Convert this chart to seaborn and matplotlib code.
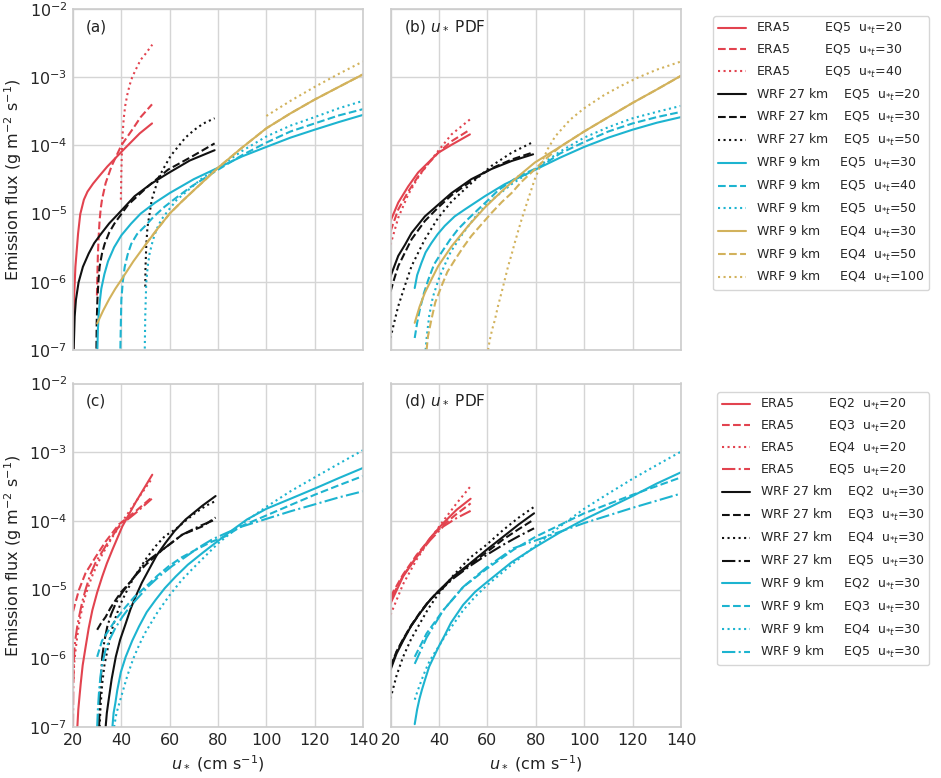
import numpy as np
import matplotlib
matplotlib.use("Agg")
import matplotlib.pyplot as plt
import seaborn as sns

# ---------------- data ----------------
# panel (a): single-threshold EQ5 / EQ4 curves
a_era5_20_u = [20.1, 20.4, 21.0, 22.1, 23.0, 24.5, 26, 28.3, 31, 34.2, 40.7, 47.6, 52.7]
a_era5_20_f = [1.05e-7, 5.4e-7, 1.66e-6, 5.1e-6, 9.8e-6, 1.6e-5, 2.1e-5, 2.75e-5, 3.6e-5, 4.9e-5, 8.5e-5, 1.5e-4, 2.1e-4]
a_era5_30_u = [29.9, 30.1, 30.3, 30.6, 31, 31.5, 32, 33.5, 36, 40, 45, 48, 52.7]
a_era5_30_f = [6.3e-7, 1.3e-6, 2.5e-6, 4.5e-6, 7.9e-6, 1.2e-5, 1.6e-5, 2.8e-5, 5.0e-5, 1.0e-4, 1.8e-4, 2.6e-4, 4.0e-4]
a_era5_40_u = [39.8, 39.9, 40.0, 40.15, 40.3, 40.6, 41, 41.6, 42.5, 43.5, 44.5, 46, 48, 50, 52.8]
a_era5_40_f = [1.6e-5, 2.5e-5, 4.0e-5, 6.3e-5, 1.0e-4, 1.6e-4, 2.5e-4, 3.8e-4, 5.6e-4, 7.8e-4, 1.0e-3,
               1.3e-3, 1.8e-3, 2.2e-3, 3.0e-3]

a_w27_20_u = [20.3, 20.7, 21.2, 22.3, 24.1, 26.5, 28.8, 31.7, 35, 38.6, 45.5, 52.4, 59.3, 68.3, 78.6]
a_w27_20_f = [1.05e-7, 3.1e-7, 5.4e-7, 9.8e-7, 1.66e-6, 2.6e-6, 3.7e-6, 5.1e-6, 7.2e-6, 9.8e-6, 1.8e-5,
              2.75e-5, 3.9e-5, 6.0e-5, 8.5e-5]
a_w27_30_u = [29.7, 29.8, 30.1, 30.5, 31, 32, 33.1, 35, 37.2, 42.8, 51, 59.3, 69, 78.6]
a_w27_30_f = [1.05e-7, 2.5e-7, 5.4e-7, 1.0e-6, 1.66e-6, 2.6e-6, 3.6e-6, 5.3e-6, 7.2e-6, 1.35e-5, 2.5e-5,
              4.4e-5, 6.8e-5, 1.07e-4]
a_w27_50_u = [49.9, 50.0, 50.3, 50.8, 51.7, 52.6, 53.8, 55.5, 57.9, 60.5, 63.4, 66.5, 70.3, 74, 78.6]
a_w27_50_f = [8.5e-7, 1.6e-6, 3.3e-6, 6.3e-6, 1.0e-5, 1.6e-5, 2.2e-5, 3.4e-5, 4.9e-5, 7.1e-5, 9.5e-5,
              1.3e-4, 1.7e-4, 2.1e-4, 2.5e-4]

a_w9_30_u = [30.1, 30.3, 30.6, 31.1, 31.7, 33, 34.5, 37, 40, 44, 48, 54, 60, 70, 80, 90, 100, 110, 120, 130, 140]
a_w9_30_f = [1.05e-7, 2.0e-7, 3.2e-7, 5.2e-7, 7.9e-7, 1.3e-6, 2.0e-6, 3.2e-6, 4.8e-6, 7.1e-6, 1.0e-5,
             1.45e-5, 2.0e-5, 3.2e-5, 4.7e-5, 6.9e-5, 9.5e-5, 1.3e-4, 1.7e-4, 2.2e-4, 2.8e-4]
a_w9_40_u = [39.6, 39.8, 40, 40.6, 41.4, 42.6, 44.1, 46.5, 49.7, 53.5, 57.9, 63, 69, 80, 90, 100, 110, 120, 130, 140]
a_w9_40_f = [1.05e-7, 2.5e-7, 5.4e-7, 1.0e-6, 1.66e-6, 2.5e-6, 3.6e-6, 5.0e-6, 6.5e-6, 9.1e-6, 1.26e-5,
             1.74e-5, 2.5e-5, 4.4e-5, 7.2e-5, 1.1e-4, 1.6e-4, 2.1e-4, 2.75e-4, 3.4e-4]
a_w9_50_u = [49.7, 49.9, 50.3, 50.9, 51.7, 53, 54.5, 56.5, 59.3, 63, 67.6, 73, 80, 90, 100, 110, 120, 130, 140]
a_w9_50_f = [1.05e-7, 3.2e-7, 9.5e-7, 1.66e-6, 2.6e-6, 4.0e-6, 5.8e-6, 8.1e-6, 1.1e-5, 1.6e-5, 2.2e-5,
             3.2e-5, 4.7e-5, 8.3e-5, 1.35e-4, 1.95e-4, 2.6e-4, 3.5e-4, 4.5e-4]

a_w9eq4_30_u = [30, 32.5, 35, 37.5, 40, 45, 50, 55, 60, 65, 70, 75, 80, 90, 100, 110, 120, 130, 140]
a_w9eq4_30_f = [2.45e-7, 3.8e-7, 5.6e-7, 7.9e-7, 1.07e-6, 2.0e-6, 3.5e-6, 6.0e-6, 1.0e-5, 1.5e-5, 2.2e-5,
                3.2e-5, 4.7e-5, 9.3e-5, 1.78e-4, 2.95e-4, 4.7e-4, 7.2e-4, 1.1e-3]
a_w9eq4_50_u = [50, 55, 60, 65, 70, 75, 80, 90, 100, 110, 120, 130, 140]
a_w9eq4_50_f = [3.5e-6, 6.0e-6, 1.0e-5, 1.5e-5, 2.2e-5, 3.2e-5, 4.7e-5, 9.3e-5, 1.78e-4, 2.95e-4, 4.7e-4,
                7.2e-4, 1.1e-3]
a_w9eq4_100_u = [100, 110, 120, 130, 140]
a_w9eq4_100_f = [2.7e-4, 4.5e-4, 7.2e-4, 1.12e-3, 1.7e-3]

# panel (b): u* PDF version
b_era5_u = [20, 23.2, 27.3, 31.4, 35.6, 39.7, 45.2, 52.8]
b_era5_20_f = [7.8e-6, 1.45e-5, 2.5e-5, 4.0e-5, 5.6e-5, 7.8e-5, 1.02e-4, 1.45e-4]
b_era5_30_f = [5.5e-6, 1.15e-5, 2.1e-5, 3.5e-5, 5.4e-5, 7.8e-5, 1.15e-4, 1.7e-4]
b_era5_40_f = [3.5e-6, 8.7e-6, 1.9e-5, 3.4e-5, 5.4e-5, 8.3e-5, 1.45e-4, 2.4e-4]

b_w27_u = [20, 21.6, 23.2, 26, 28.7, 34.2, 39.7, 45.2, 53.4, 61.7, 70, 78.9]
b_w27_20_f = [1.2e-6, 1.7e-6, 2.4e-6, 3.5e-6, 5.2e-6, 9.1e-6, 1.35e-5, 2.0e-5, 3.2e-5, 4.5e-5, 5.9e-5, 7.4e-5]
b_w27_30_f = [7.2e-7, 1.12e-6, 1.7e-6, 2.7e-6, 4.2e-6, 7.8e-6, 1.23e-5, 1.86e-5, 3.0e-5, 4.6e-5, 6.2e-5, 7.9e-5]
b_w27_50_f = [1.5e-7, 2.6e-7, 4.4e-7, 8.9e-7, 1.7e-6, 4.2e-6, 8.7e-6, 1.5e-5, 2.8e-5, 5.0e-5, 7.8e-5, 1.12e-4]

b_w9_30_u = [30, 31, 32.8, 34.5, 36.9, 39.5, 42.4, 46.5, 50.7, 55, 59, 67.2, 75.5, 83, 90, 100, 110, 120, 130, 140]
b_w9_30_f = [8.1e-7, 1.25e-6, 1.9e-6, 2.7e-6, 3.7e-6, 5.0e-6, 6.6e-6, 9.1e-6, 1.15e-5, 1.45e-5, 1.8e-5,
             2.7e-5, 3.7e-5, 5.0e-5, 6.6e-5, 9.5e-5, 1.3e-4, 1.7e-4, 2.15e-4, 2.6e-4]
b_w9_40_u = [30, 31, 32.1, 33.8, 35.6, 38, 41.1, 44.5, 47.9, 52, 56.2, 60.5, 64.5, 72.7, 82.4, 90, 100, 110,
             120, 130, 140]
b_w9_40_f = [1.5e-7, 2.5e-7, 3.9e-7, 6.8e-7, 1.07e-6, 1.8e-6, 2.7e-6, 4.1e-6, 5.9e-6, 8.3e-6, 1.15e-5,
             1.6e-5, 2.2e-5, 3.5e-5, 5.0e-5, 7.6e-5, 1.12e-4, 1.6e-4, 2.1e-4, 2.6e-4, 3.1e-4]
b_w9_50_u = [34.5, 35, 36, 37.5, 40, 42.5, 45, 50, 55, 60, 70, 80, 90, 100, 110, 120, 130, 140]
b_w9_50_f = [1.0e-7, 1.6e-7, 3.2e-7, 6.0e-7, 1.12e-6, 1.8e-6, 2.8e-6, 5.2e-6, 8.9e-6, 1.4e-5, 2.7e-5,
             4.6e-5, 8.1e-5, 1.3e-4, 1.85e-4, 2.5e-4, 3.1e-4, 3.8e-4]

b_w9eq4_30_u = [30, 32, 34.2, 37, 39.7, 45.2, 52.1, 59, 65.8, 72.7, 79.6, 90, 100, 110, 120, 130, 140]
b_w9eq4_30_f = [2.5e-7, 4.3e-7, 6.9e-7, 1.1e-6, 1.7e-6, 3.3e-6, 6.6e-6, 1.23e-5, 2.1e-5, 3.5e-5, 5.6e-5,
                9.5e-5, 1.6e-4, 2.6e-4, 4.2e-4, 6.6e-4, 1.05e-3]
b_w9eq4_50_u = [34.9, 35.5, 36.9, 38.5, 41.1, 43.5, 46.6, 50, 53.4, 57.5, 61.7, 66, 70, 74, 78.2, 84, 90,
                100, 110, 120, 130, 140]
b_w9eq4_50_f = [1.0e-7, 1.6e-7, 2.8e-7, 5.0e-7, 8.7e-7, 1.4e-6, 2.1e-6, 3.2e-6, 4.7e-6, 6.9e-6, 1.02e-5,
                1.48e-5, 2.0e-5, 2.9e-5, 4.0e-5, 6.3e-5, 9.5e-5, 1.6e-4, 2.6e-4, 4.2e-4, 6.6e-4, 1.05e-3]
b_w9eq4_100_u = [60.3, 61, 62, 63.1, 64.4, 65.8, 67.2, 68.6, 70, 71.3, 72.7, 74.1, 76.8, 79.6, 82.4, 85,
                 88, 94.3, 100, 108, 115, 122, 130, 140]
b_w9eq4_100_f = [1.0e-7, 1.4e-7, 2.0e-7, 2.75e-7, 4.4e-7, 6.8e-7, 1.07e-6, 1.7e-6, 2.5e-6, 3.7e-6, 5.5e-6,
                 8.1e-6, 1.6e-5, 3.2e-5, 5.6e-5, 8.9e-5, 1.35e-4, 2.4e-4, 3.5e-4, 5.4e-4, 7.4e-4,
                 9.8e-4, 1.29e-3, 1.7e-3]

# panel (c): EQ2-EQ5 with fixed thresholds
c_era5_eq2_u = [21.8, 22.2, 22.7, 23.2, 24, 25.2, 26.5, 28, 30, 32.1, 34, 36.3, 40.4, 45.9, 52.8]
c_era5_eq2_f = [1.0e-7, 1.8e-7, 2.8e-7, 4.3e-7, 7.9e-7, 1.45e-6, 2.75e-6, 5.0e-6, 9.1e-6, 1.55e-5, 2.4e-5,
                3.8e-5, 8.3e-5, 1.86e-4, 4.7e-4]
c_era5_eq3_u = [20, 22.5, 25.2, 29.4, 33.5, 39, 45.9, 52.6]
c_era5_eq3_f = [4.8e-6, 1.0e-5, 1.74e-5, 3.0e-5, 5.0e-5, 8.9e-5, 1.38e-4, 2.2e-4]
c_era5_eq4_u = [20.2, 20.5, 21, 21.7, 22.5, 23.7, 25, 26.5, 28, 30, 32, 36, 40, 46, 52.8]
c_era5_eq4_f = [5.0e-7, 8.5e-7, 1.26e-6, 2.0e-6, 3.2e-6, 5.2e-6, 7.9e-6, 1.15e-5, 1.6e-5, 2.3e-5, 3.2e-5,
                5.6e-5, 9.3e-5, 1.9e-4, 4.2e-4]
c_era5_eq5_u = [20, 20.1, 20.3, 20.6, 21.1, 21.8, 22.5, 23.8, 25.2, 27, 29.4, 33.5, 39, 45.9, 52.6]
c_era5_eq5_f = [1.0e-7, 3.2e-7, 8.3e-7, 1.4e-6, 2.0e-6, 3.0e-6, 4.0e-6, 6.6e-6, 1.0e-5, 1.6e-5, 2.5e-5,
                4.3e-5, 8.3e-5, 1.3e-4, 2.1e-4]

c_w27_eq2_u = [33.5, 34, 34.9, 36, 37.7, 39.5, 41.8, 43.8, 45.9, 48.5, 51.4, 54.5, 58.3, 62, 66.6, 73.5, 79]
c_w27_eq2_f = [1.0e-7, 1.6e-7, 2.7e-7, 5.0e-7, 1.05e-6, 1.86e-6, 3.2e-6, 5.2e-6, 7.9e-6, 1.26e-5, 1.95e-5,
               3.1e-5, 4.8e-5, 7.1e-5, 1.05e-4, 1.66e-4, 2.3e-4]
c_w27_eq3_u = [30, 31.5, 33.5, 35.5, 37.7, 40, 43.2, 46.5, 50.1, 57, 65.2, 73.5, 79]
c_w27_eq3_f = [2.6e-6, 3.2e-6, 4.0e-6, 5.4e-6, 7.1e-6, 9.3e-6, 1.23e-5, 1.7e-5, 2.3e-5, 3.8e-5, 6.3e-5,
               8.3e-5, 1.12e-4]
c_w27_eq4_u = [31, 31.4, 32.1, 33, 34.2, 35.8, 37.7, 39.5, 41.8, 44.5, 47.3, 50.5, 54.2, 58, 62.5, 66.5,
               70.8, 75, 79]
c_w27_eq4_f = [1.0e-7, 2.0e-7, 4.3e-7, 7.9e-7, 1.3e-6, 2.4e-6, 4.0e-6, 6.0e-6, 8.9e-6, 1.35e-5, 1.95e-5,
               2.9e-5, 4.3e-5, 6.0e-5, 7.6e-5, 1.0e-4, 1.32e-4, 1.66e-4, 1.95e-4]
c_w27_eq5_u = [30.8, 31, 31.4, 32.1, 33, 34.2, 35.8, 37.7, 40, 43.2, 46.5, 50.1, 57, 65.2, 72, 79]
c_w27_eq5_f = [1.0e-7, 2.0e-7, 4.3e-7, 1.05e-6, 1.8e-6, 2.9e-6, 4.4e-6, 6.3e-6, 8.7e-6, 1.23e-5, 1.74e-5,
               2.5e-5, 3.8e-5, 6.3e-5, 8.3e-5, 1.05e-4]

c_w9_eq2_u = [36.3, 36.8, 37.5, 38.3, 39.8, 41.8, 44.5, 47.3, 50.5, 54.2, 58, 62.5, 67.5, 73.5, 79, 84.6,
              92, 100, 110, 120, 130, 140]
c_w9_eq2_f = [1.0e-7, 1.6e-7, 2.2e-7, 3.4e-7, 6.3e-7, 1.05e-6, 1.8e-6, 2.9e-6, 4.7e-6, 7.1e-6, 1.05e-5,
              1.55e-5, 2.3e-5, 3.4e-5, 4.8e-5, 6.8e-5, 1.05e-4, 1.5e-4, 2.1e-4, 2.95e-4, 4.2e-4, 5.9e-4]
c_w9_eq3_u = [30, 32, 34.9, 38, 41.8, 45.5, 50.1, 55, 59.7, 65, 70.8, 77, 83.2, 90, 100, 110, 120, 130, 140]
c_w9_eq3_f = [1.05e-6, 1.8e-6, 2.6e-6, 3.8e-6, 5.6e-6, 7.9e-6, 1.1e-5, 1.6e-5, 2.2e-5, 2.95e-5, 3.8e-5,
              4.9e-5, 6.0e-5, 8.5e-5, 1.2e-4, 1.7e-4, 2.4e-4, 3.3e-4, 4.5e-4]
c_w9_eq4_u = [37, 38, 40, 42.5, 45, 47.5, 50, 55, 60, 65, 70, 80, 90, 100, 110, 120, 130, 140]
c_w9_eq4_f = [1.0e-7, 1.6e-7, 2.8e-7, 5.6e-7, 1.0e-6, 1.6e-6, 2.4e-6, 4.7e-6, 8.3e-6, 1.38e-5, 2.1e-5,
              4.7e-5, 9.1e-5, 1.6e-4, 2.7e-4, 4.3e-4, 6.8e-4, 1.07e-3]
c_w9_eq5_u = [30, 30.3, 30.8, 31.4, 32.1, 33.3, 34.9, 37.5, 40.4, 43.5, 47.3, 51, 55.6, 61, 66.6, 72, 77.7,
              84, 90, 100, 110, 120, 130, 140]
c_w9_eq5_f = [1.0e-7, 1.8e-7, 3.4e-7, 5.6e-7, 8.3e-7, 1.26e-6, 1.8e-6, 2.75e-6, 4.0e-6, 5.6e-6, 7.9e-6,
              1.1e-5, 1.55e-5, 2.2e-5, 3.0e-5, 4.1e-5, 5.4e-5, 6.8e-5, 8.3e-5, 1.07e-4, 1.38e-4,
              1.74e-4, 2.2e-4, 2.7e-4]

# panel (d): EQ2-EQ5, u* PDF version
d_era5_u = [20, 25.2, 30.8, 36.3, 41.8, 47.3, 53.1]
d_era5_eq2_f = [6.3e-6, 1.55e-5, 3.0e-5, 5.6e-5, 9.3e-5, 1.45e-4, 2.1e-4]
d_era5_eq3_f = [7.9e-6, 1.66e-5, 3.2e-5, 5.5e-5, 8.7e-5, 1.26e-4, 1.8e-4]
d_era5_eq4_f = [4.3e-6, 1.2e-5, 2.75e-5, 5.4e-5, 1.0e-4, 1.8e-4, 3.2e-4]
d_era5_eq5_f = [7.1e-6, 1.6e-5, 3.0e-5, 5.2e-5, 8.3e-5, 1.1e-4, 1.4e-4]

d_w27_u = [20, 22.5, 25.2, 28.5, 32.1, 35.5, 39, 45.9, 52.8, 59.7, 66.6, 73, 79.3]
d_w27_eq2_f = [6.8e-7, 1.17e-6, 1.8e-6, 2.95e-6, 4.5e-6, 6.5e-6, 8.9e-6, 1.55e-5, 2.4e-5, 3.8e-5, 5.9e-5,
               8.9e-5, 1.29e-4]
d_w27_eq3_f = [7.6e-7, 1.26e-6, 1.9e-6, 3.0e-6, 4.6e-6, 6.6e-6, 8.9e-6, 1.5e-5, 2.3e-5, 3.5e-5, 5.4e-5,
               7.6e-5, 1.05e-4]
d_w27_eq4_f = [2.6e-7, 5.6e-7, 1.05e-6, 1.9e-6, 3.2e-6, 5.2e-6, 7.9e-6, 1.6e-5, 2.9e-5, 4.5e-5, 7.4e-5,
               1.12e-4, 1.6e-4]
d_w27_eq5_f = [7.2e-7, 1.23e-6, 1.86e-6, 2.95e-6, 4.5e-6, 6.5e-6, 8.7e-6, 1.45e-5, 2.2e-5, 3.2e-5, 4.5e-5,
               6.0e-5, 7.8e-5]

d_w9_u = [30, 31, 32, 33, 34.5, 36, 38, 40, 42.5, 45, 50, 55, 60, 70, 80, 90, 100, 110, 120, 130, 140]
d_w9_eq2_f = [1.1e-7, 1.8e-7, 2.6e-7, 3.5e-7, 5.2e-7, 7.6e-7, 1.07e-6, 1.5e-6, 2.2e-6, 3.3e-6, 6.0e-6,
              9.3e-6, 1.3e-5, 2.5e-5, 4.2e-5, 6.8e-5, 1.05e-4, 1.55e-4, 2.3e-4, 3.5e-4, 5.1e-4]
d_w9_eq4_f = [2.5e-7, 3.2e-7, 4.0e-7, 5.0e-7, 6.8e-7, 8.9e-7, 1.17e-6, 1.5e-6, 2.1e-6, 2.8e-6, 5.0e-6,
              7.9e-6, 1.17e-5, 2.3e-5, 4.4e-5, 8.3e-5, 1.5e-4, 2.5e-4, 4.1e-4, 6.5e-4, 1.02e-3]
d_w9_u2 = [30, 34.9, 41.8, 50.1, 59.7, 70.8, 80, 100, 120, 140]
d_w9_eq3_f = [1.05e-6, 2.3e-6, 5.0e-6, 1.1e-5, 2.0e-5, 3.8e-5, 5.9e-5, 1.29e-4, 2.4e-4, 4.3e-4]
d_w9_eq5_f = [8.3e-7, 2.0e-6, 5.0e-6, 1.1e-5, 2.1e-5, 4.0e-5, 5.2e-5, 9.3e-5, 1.55e-4, 2.5e-4]

# ---------------- style ----------------
RED = "#e2434f"
BLACK = "#111111"
CYAN = "#1db4d0"
GOLD = "#d2b25c"

sns.set_theme(style="whitegrid")
plt.rcParams["font.family"] = ["DejaVu Sans"]
plt.rcParams["axes.edgecolor"] = "#cccccc"
plt.rcParams["grid.color"] = "#d5d5d5"

U = "u$_{*t}$"
src = {
    "era": "ERA5" + " " * 9,
    "w27": "WRF 27 km" + " " * 4,
    "w9": "WRF 9 km" + " " * 5,
}

# (label, color, linestyle, u, flux)
curves_a = [
    (src["era"] + "EQ5  " + U + "=20", RED, "-", a_era5_20_u, a_era5_20_f),
    (src["era"] + "EQ5  " + U + "=30", RED, "--", a_era5_30_u, a_era5_30_f),
    (src["era"] + "EQ5  " + U + "=40", RED, ":", a_era5_40_u, a_era5_40_f),
    (src["w27"] + "EQ5  " + U + "=20", BLACK, "-", a_w27_20_u, a_w27_20_f),
    (src["w27"] + "EQ5  " + U + "=30", BLACK, "--", a_w27_30_u, a_w27_30_f),
    (src["w27"] + "EQ5  " + U + "=50", BLACK, ":", a_w27_50_u, a_w27_50_f),
    (src["w9"] + "EQ5  " + U + "=30", CYAN, "-", a_w9_30_u, a_w9_30_f),
    (src["w9"] + "EQ5  " + U + "=40", CYAN, "--", a_w9_40_u, a_w9_40_f),
    (src["w9"] + "EQ5  " + U + "=50", CYAN, ":", a_w9_50_u, a_w9_50_f),
    (src["w9"] + "EQ4  " + U + "=30", GOLD, "-", a_w9eq4_30_u, a_w9eq4_30_f),
    (src["w9"] + "EQ4  " + U + "=50", GOLD, "--", a_w9eq4_50_u, a_w9eq4_50_f),
    (src["w9"] + "EQ4  " + U + "=100", GOLD, ":", a_w9eq4_100_u, a_w9eq4_100_f),
]
curves_b = [
    (RED, "-", b_era5_u, b_era5_20_f),
    (RED, "--", b_era5_u, b_era5_30_f),
    (RED, ":", b_era5_u, b_era5_40_f),
    (BLACK, "-", b_w27_u, b_w27_20_f),
    (BLACK, "--", b_w27_u, b_w27_30_f),
    (BLACK, ":", b_w27_u, b_w27_50_f),
    (CYAN, "-", b_w9_30_u, b_w9_30_f),
    (CYAN, "--", b_w9_40_u, b_w9_40_f),
    (CYAN, ":", b_w9_50_u, b_w9_50_f),
    (GOLD, "-", b_w9eq4_30_u, b_w9eq4_30_f),
    (GOLD, "--", b_w9eq4_50_u, b_w9eq4_50_f),
    (GOLD, ":", b_w9eq4_100_u, b_w9eq4_100_f),
]
curves_c = [
    (src["era"] + "EQ2  " + U + "=20", RED, "-", c_era5_eq2_u, c_era5_eq2_f),
    (src["era"] + "EQ3  " + U + "=20", RED, "--", c_era5_eq3_u, c_era5_eq3_f),
    (src["era"] + "EQ4  " + U + "=20", RED, ":", c_era5_eq4_u, c_era5_eq4_f),
    (src["era"] + "EQ5  " + U + "=20", RED, "-.", c_era5_eq5_u, c_era5_eq5_f),
    (src["w27"] + "EQ2  " + U + "=30", BLACK, "-", c_w27_eq2_u, c_w27_eq2_f),
    (src["w27"] + "EQ3  " + U + "=30", BLACK, "--", c_w27_eq3_u, c_w27_eq3_f),
    (src["w27"] + "EQ4  " + U + "=30", BLACK, ":", c_w27_eq4_u, c_w27_eq4_f),
    (src["w27"] + "EQ5  " + U + "=30", BLACK, "-.", c_w27_eq5_u, c_w27_eq5_f),
    (src["w9"] + "EQ2  " + U + "=30", CYAN, "-", c_w9_eq2_u, c_w9_eq2_f),
    (src["w9"] + "EQ3  " + U + "=30", CYAN, "--", c_w9_eq3_u, c_w9_eq3_f),
    (src["w9"] + "EQ4  " + U + "=30", CYAN, ":", c_w9_eq4_u, c_w9_eq4_f),
    (src["w9"] + "EQ5  " + U + "=30", CYAN, "-.", c_w9_eq5_u, c_w9_eq5_f),
]
curves_d = [
    (RED, "-", d_era5_u, d_era5_eq2_f),
    (RED, "--", d_era5_u, d_era5_eq3_f),
    (RED, ":", d_era5_u, d_era5_eq4_f),
    (RED, "-.", d_era5_u, d_era5_eq5_f),
    (BLACK, "-", d_w27_u, d_w27_eq2_f),
    (BLACK, "--", d_w27_u, d_w27_eq3_f),
    (BLACK, ":", d_w27_u, d_w27_eq4_f),
    (BLACK, "-.", d_w27_u, d_w27_eq5_f),
    (CYAN, "-", d_w9_u, d_w9_eq2_f),
    (CYAN, "--", d_w9_u2, d_w9_eq3_f),
    (CYAN, ":", d_w9_u, d_w9_eq4_f),
    (CYAN, "-.", d_w9_u2, d_w9_eq5_f),
]

W, H = 941, 778
fig = plt.figure(figsize=(W / 100, H / 100), dpi=100)


def make_ax(x0, x1, y0, y1):
    return fig.add_axes([x0 / W, 1 - y1 / H, (x1 - x0) / W, (y1 - y0) / H])


ax_a = make_ax(73, 363, 9, 350)
ax_b = make_ax(390.5, 681, 9, 350)
ax_c = make_ax(73, 363, 383.5, 727)
ax_d = make_ax(390.5, 681, 383.5, 727)

LW = 1.5


def draw(ax, curves, with_labels):
    handles, labels = [], []
    for item in curves:
        if with_labels:
            lab, col, ls, u, f = item
        else:
            col, ls, u, f = item
        sns.lineplot(x=u, y=f, ax=ax, color=col, linestyle=ls, linewidth=LW, legend=False)
        if with_labels:
            handles.append(ax.lines[-1])
            labels.append(lab)
    return handles, labels


h_top, l_top = draw(ax_a, curves_a, True)
draw(ax_b, curves_b, False)
h_bot, l_bot = draw(ax_c, curves_c, True)
draw(ax_d, curves_d, False)

panel_txt = {ax_a: "(a)", ax_b: "(b) $u_*$ PDF", ax_c: "(c)", ax_d: "(d) $u_*$ PDF"}
for ax in (ax_a, ax_b, ax_c, ax_d):
    ax.set_yscale("log")
    ax.set_xlim(20, 140)
    ax.set_ylim(1e-7, 1e-2)
    ax.set_xticks([20, 40, 60, 80, 100, 120, 140])
    ax.grid(True, which="major", color="#d5d5d5", linewidth=1.0)
    ax.grid(False, which="minor")
    ax.tick_params(labelsize=11.5, length=0, pad=4)
    ax.tick_params(which="minor", length=0)
    for sp in ax.spines.values():
        sp.set_color("#cccccc")
        sp.set_linewidth(1.2)
    ax.text(0.045, 0.948, panel_txt[ax], transform=ax.transAxes, fontsize=11,
            va="center", ha="left", color="#222222")
    ax.set_xlabel("")
    ax.set_ylabel("")

for ax in (ax_a, ax_b):
    ax.set_xticklabels([])
for ax in (ax_b, ax_d):
    ax.set_yticklabels([])
    ax.yaxis.set_minor_formatter(matplotlib.ticker.NullFormatter())

for ax in (ax_a, ax_c):
    ax.set_ylabel("Emission flux (g m$^{-2}$ s$^{-1}$)", fontsize=11.5, color="#222222")
for ax in (ax_c, ax_d):
    ax.set_xlabel("$u_*$ (cm s$^{-1}$)", fontsize=11.5, color="#222222")

for h, l, x0, top in ((h_top, l_top, 713, 16), (h_bot, l_bot, 717, 392)):
    fig.legend(h, l, loc="upper left", bbox_to_anchor=(x0 / W, 1 - top / H),
               bbox_transform=fig.transFigure, fontsize=9.0, labelspacing=0.54,
               handlelength=2.2, handletextpad=0.8, borderpad=0.4, frameon=True,
               edgecolor="#cccccc", borderaxespad=0)

fig.savefig("out.png", dpi=100)
